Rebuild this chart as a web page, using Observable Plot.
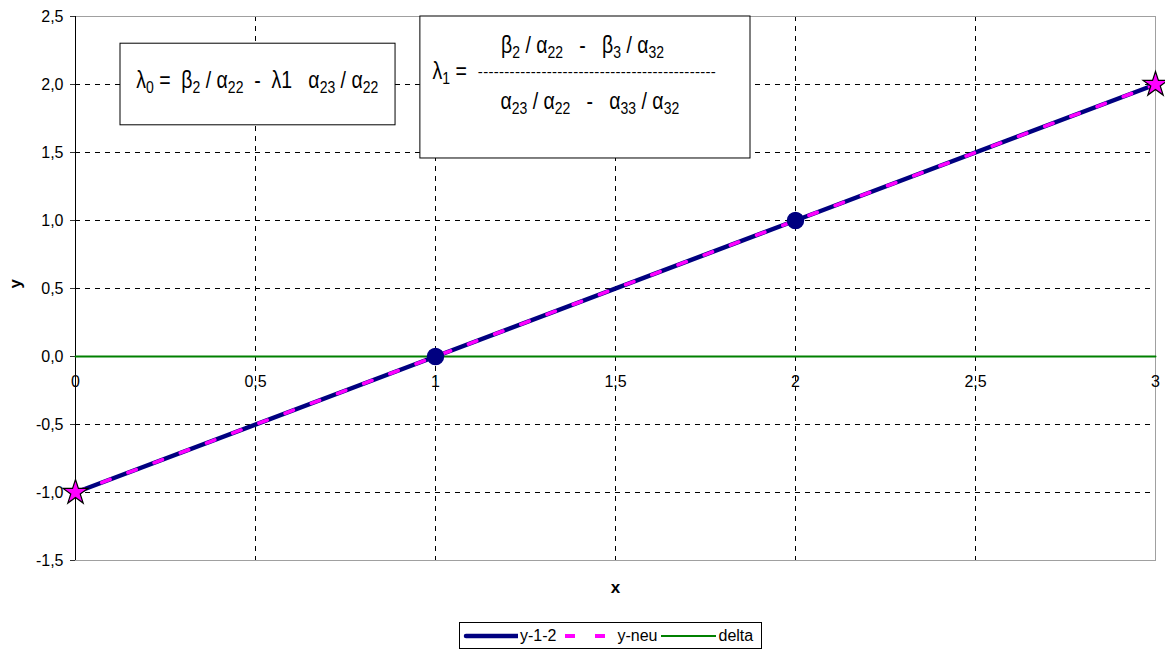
<!DOCTYPE html>
<html>
<head>
<meta charset="utf-8">
<script src="https://cdn.jsdelivr.net/npm/d3@7"></script>
<script src="https://cdn.jsdelivr.net/npm/@observablehq/plot@0.6"></script>
<style>
  body { margin: 0; background: #fff; font-family: "Liberation Sans", Arial, sans-serif; }
  #legend { display: inline-flex; align-items: center; margin-left: 459px; margin-top: 17px;
            border: 1px solid #000; height: 25px; padding: 0 4px 0 3px; font-size: 16px; color: #000; }
  #legend span.lab { margin: 0 4px 0 2px; }
</style>
</head>
<body>
<div id="chart"></div>
<div id="legend"></div>
<script>
// ---- data ----
const xTicks = [0, 0.5, 1, 1.5, 2, 2.5, 3];
const yTicks = [-1.5, -1, -0.5, 0, 0.5, 1, 1.5, 2, 2.5];
const gridXValues = [0.5, 1, 1.5, 2, 2.5];
const gridYValues = [-1, -0.5, 0, 0.5, 1, 1.5, 2];

const y12X = [0, 1, 2, 3];
const y12Y = [-1, 0, 1, 2];
const y12MarkX = [1, 2];
const y12MarkY = [0, 1];

const yNeuX = [0, 3];
const yNeuY = [-1, 2];

const deltaX = [0, 3];
const deltaY = [0, 0];

const seriesNames = ["y-1-2", "y-neu", "delta"];

// annotation boxes (data coordinates)
const boxX1 = [0.125, 0.958];
const boxX2 = [0.889, 1.875];
const boxY1 = [1.70, 1.456];
const boxY2 = [2.30, 2.5];

const annoX = [0.17, 1.41, 0.993, 1.119, 1.43];
const annoY = [2.03, 2.29, 2.10, 2.085, 1.875];
const annoAnchor = ["start", "middle", "start", "start", "middle"];
const annoText = [
  "λ_{0} =  β_{2} / α_{22}  -  λ1   α_{23} / α_{22}",
  "β_{2} / α_{22}   -   β_{3} / α_{32}",
  "λ_{1} =",
  "-".repeat(45),
  "α_{23} / α_{22}   -   α_{33} / α_{32}"
];

// ---- build tables ----
const y12 = y12X.map((x, i) => ({x, y: y12Y[i]}));
const y12M = y12MarkX.map((x, i) => ({x, y: y12MarkY[i]}));
const yNeu = yNeuX.map((x, i) => ({x, y: yNeuY[i]}));
const delta = deltaX.map((x, i) => ({x, y: deltaY[i]}));
const boxes = boxX1.map((x1, i) => ({x1, x2: boxX2[i], y1: boxY1[i], y2: boxY2[i]}));
const annos = annoX.map((x, i) => ({x, y: annoY[i], anchor: annoAnchor[i], t: annoText[i]}));

const FONT = '"Liberation Sans", Arial, sans-serif';
const fmtY = d => d.toFixed(1).replace(".", ",");
const fmtX = d => String(d).replace(".", ",");

function richTextMark(index, scales) {
  const g = d3.create("svg:g").attr("font-family", FONT).attr("fill", "black");
  for (const a of annos) {
    const isRule = /^-+$/.test(a.t);
    const fs = isRule ? 15 : 19.5;
    const text = g.append("text")
      .attr("transform", `translate(${scales.x(a.x)},${scales.y(a.y)}) scale(1,${isRule ? 1 : 1.2})`)
      .attr("dy", isRule ? "0.28em" : "0.36em")
      .attr("font-size", fs)
      .attr("text-anchor", a.anchor)
      .style("letter-spacing", isRule ? "0.3px" : null)
      .style("white-space", "pre");
    const parts = a.t.split(/(_\{[^}]*\})/).filter(s => s.length);
    let sub = false;
    for (const p of parts) {
      if (p.startsWith("_{")) {
        text.append("tspan").attr("font-size", 14).attr("dy", 4).text(p.slice(2, -1));
        sub = true;
      } else {
        const t = text.append("tspan").text(p);
        if (sub) { t.attr("dy", -4); sub = false; }
      }
    }
  }
  return g.node();
}

const chart = Plot.plot({
  width: 1165,
  height: 605,
  marginTop: 16,
  marginLeft: 75,
  marginRight: 10,
  marginBottom: 45,
  style: {fontFamily: FONT, fontSize: "16px", color: "black", background: "white"},
  x: {domain: [0, 3], axis: null},
  y: {domain: [-1.5, 2.5]},
  marks: [
    Plot.gridX(gridXValues, {stroke: "black", strokeOpacity: 1, strokeDasharray: "5,5"}),
    Plot.gridY(gridYValues, {stroke: "black", strokeOpacity: 1, strokeDasharray: "5,5"}),
    Plot.frame({stroke: "#a0a0a0"}),
    Plot.ruleX([0], {stroke: "black"}),
    Plot.axisY({ticks: yTicks, tickFormat: fmtY, tickSize: 5, tickPadding: 7, label: null, stroke: "#333", fontSize: 16}),
    Plot.text(xTicks, {x: d => d, y: 0, dy: 25, text: fmtX, fontSize: 16}),
    Plot.text(["y"], {frameAnchor: "left", dx: -60, rotate: -90, fontWeight: "bold", fontSize: 17}),
    Plot.text(["x"], {frameAnchor: "bottom", dy: 32, fontWeight: "bold", fontSize: 17}),
    Plot.rect(boxes, {x1: "x1", x2: "x2", y1: "y1", y2: "y2", fill: "white", stroke: "black", strokeWidth: 1}),
    richTextMark,
    Plot.line(delta, {x: "x", y: "y", stroke: "#008000", strokeWidth: 2}),
    Plot.line(y12, {x: "x", y: "y", stroke: "#000080", strokeWidth: 4.5}),
    Plot.line(yNeu, {x: "x", y: "y", stroke: "#ff00ff", strokeWidth: 3.5, strokeDasharray: "9,19"}),
    Plot.dot(y12M, {x: "x", y: "y", r: 8, fill: "#000080", stroke: "#000080"}),
    Plot.dot(yNeu, {x: "x", y: "y", symbol: "star", r: 7.8, fill: "#ff00ff", stroke: "black", strokeWidth: 1.2})
  ]
});
document.getElementById("chart").appendChild(chart);

// legend
const legendStyles = [
  {stroke: "#000080", width: 4.5, dash: null, offset: 0},
  {stroke: "#ff00ff", width: 4, dash: "10,20", offset: -5},
  {stroke: "#008000", width: 2, dash: null, offset: 0}
];
const leg = document.getElementById("legend");
seriesNames.forEach((name, i) => {
  const s = legendStyles[i];
  const sw = d3.create("svg").attr("width", 55).attr("height", 12);
  sw.append("line").attr("x1", i === 0 ? 3 : 0).attr("x2", 55).attr("y1", 6).attr("y2", 6)
    .attr("stroke", s.stroke).attr("stroke-width", s.width)
    .attr("stroke-dasharray", s.dash).attr("stroke-dashoffset", s.offset)
    .attr("stroke-linecap", i === 0 ? "round" : "butt");
  leg.appendChild(sw.node());
  const lab = document.createElement("span");
  lab.className = "lab";
  lab.textContent = name;
  leg.appendChild(lab);
});
</script>
</body>
</html>
